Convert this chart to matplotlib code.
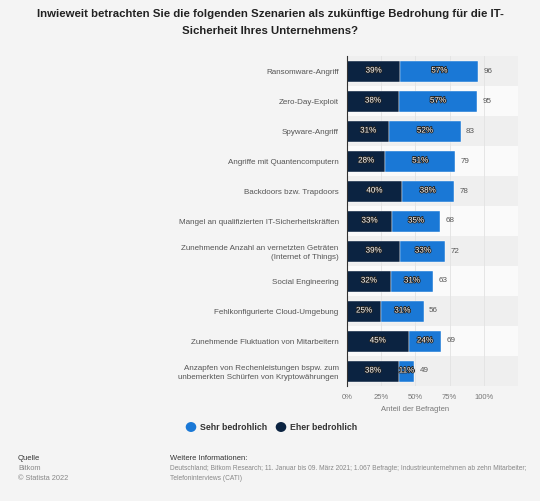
import matplotlib.pyplot as plt
import matplotlib.patheffects as pe
import numpy as np

plt.rcParams['font.family'] = ['Liberation Sans', 'DejaVu Sans']

categories = ['Ransomware-Angriff', 'Zero-Day-Exploit', 'Spyware-Angriff',
              'Angriffe mit Quantencomputern', 'Backdoors bzw. Trapdoors',
              'Mangel an qualifizierten IT-Sicherheitskräften',
              'Zunehmende Anzahl an vernetzten Geträten\n(Internet of Things)',
              'Social Engineering', 'Fehlkonfigurierte Cloud-Umgebung',
              'Zunehmende Fluktuation von Mitarbeitern',
              'Anzapfen von Rechenleistungen bspw. zum\nunbemerkten Schürfen von Kryptowährungen']
eher = [39, 38, 31, 28, 40, 33, 39, 32, 25, 45, 38]
sehr = [57, 57, 52, 51, 38, 35, 33, 31, 31, 24, 11]
totals = [96, 95, 83, 79, 78, 68, 72, 63, 56, 69, 49]
xticks = [0, 25, 50, 75, 100]

c_dark = '#0b2341'
c_blue = '#1a78d6'
bg = '#f4f4f4'

fig = plt.figure(figsize=(5.4, 5.01), dpi=100)
fig.patch.set_facecolor(bg)
ax = fig.add_axes([347/540, 1-386/501, (518-347)/540, (386-56)/501])
ax.set_facecolor(bg)

y = np.arange(len(categories))
# alternating row bands
for i in y:
    ax.axhspan(i-0.5, i+0.5, color='#efefef' if i % 2 == 0 else '#fafafa', zorder=0, lw=0)
for xt in [25, 50, 75, 100, 125]:
    ax.axvline(xt, color='#e2e2e2', lw=0.6, zorder=1)

ax.barh(y, eher, height=0.7, color=c_dark, zorder=2, edgecolor='white', linewidth=0.3)
ax.barh(y, sehr, left=eher, height=0.7, color=c_blue, zorder=2, edgecolor='white', linewidth=0.3)

stroke = [pe.withStroke(linewidth=1.2, foreground='#222222')]
for i in y:
    ax.text(eher[i]/2, i, f'{eher[i]}%', ha='center', va='center', color='white',
            fontsize=5.8, zorder=3, path_effects=stroke)
    ax.text(eher[i] + sehr[i]/2, i, f'{sehr[i]}%', ha='center', va='center', color='white',
            fontsize=5.8, zorder=3, path_effects=stroke)
    ax.text(eher[i] + sehr[i] + 4, i, str(totals[i]), ha='left', va='center',
            color='#555555', fontsize=5.8, zorder=3)

ax.set_xlim(0, 125)
ax.set_ylim(len(categories)-0.5, -0.5)
ax.set_yticks(y)
ax.set_yticklabels(categories, fontsize=5.8, color='#555555', linespacing=1.4)
ax.set_xticks(xticks)
ax.set_xticklabels([f'{t}%' for t in xticks], fontsize=5.5, color='#777777')
ax.tick_params(axis='both', length=0, pad=6)
for s in ['top', 'right', 'bottom']:
    ax.spines[s].set_visible(False)
ax.spines['left'].set_color('#333333')
ax.spines['left'].set_linewidth(0.8)
ax.text(50, -0.07, 'Anteil der Befragten', transform=ax.get_xaxis_transform(), ha='center',
        va='center', fontsize=5.5, color='#777777')

fig.text(0.5, 1-14/501, 'Inwieweit betrachten Sie die folgenden Szenarien als zukünftige Bedrohung für die IT-',
         ha='center', va='center', fontsize=8.2, fontweight='bold', color='#222222')
fig.text(0.5, 1-31/501, 'Sicherheit Ihres Unternehmens?',
         ha='center', va='center', fontsize=8.2, fontweight='bold', color='#222222')

# legend
fig.patches.append(plt.Circle((191/540, 1-427/501), 0.0085, transform=fig.transFigure,
                              color=c_blue, figure=fig))
fig.text(200/540, 1-427/501, 'Sehr bedrohlich', ha='left', va='center', fontsize=6.3,
         fontweight='bold', color='#333333')
fig.patches.append(plt.Circle((281/540, 1-427/501), 0.0085, transform=fig.transFigure,
                              color=c_dark, figure=fig))
fig.text(290/540, 1-427/501, 'Eher bedrohlich', ha='left', va='center', fontsize=6.3,
         fontweight='bold', color='#333333')

# footer
fig.text(18/540, 1-459/501, 'Quelle', fontsize=5.5, color='#333333', va='center')
fig.text(18/540, 1-469/501, 'Bitkom', fontsize=5.3, color='#888888', va='center')
fig.text(18/540, 1-479/501, '© Statista 2022', fontsize=5.3, color='#888888', va='center')
fig.text(170/540, 1-459/501, 'Weitere Informationen:', fontsize=5.5, color='#333333', va='center')
fig.text(170/540, 1-469/501, 'Deutschland; Bitkom Research; 11. Januar bis 09. März 2021; 1.067 Befragte; '
         'Industrieunternehmen ab zehn Mitarbeiter;', fontsize=4.75, color='#888888', va='center')
fig.text(170/540, 1-479/501, 'Telefoninterviews (CATI)', fontsize=4.75, color='#888888', va='center')

fig.savefig('out.png', dpi=100, facecolor=bg)
